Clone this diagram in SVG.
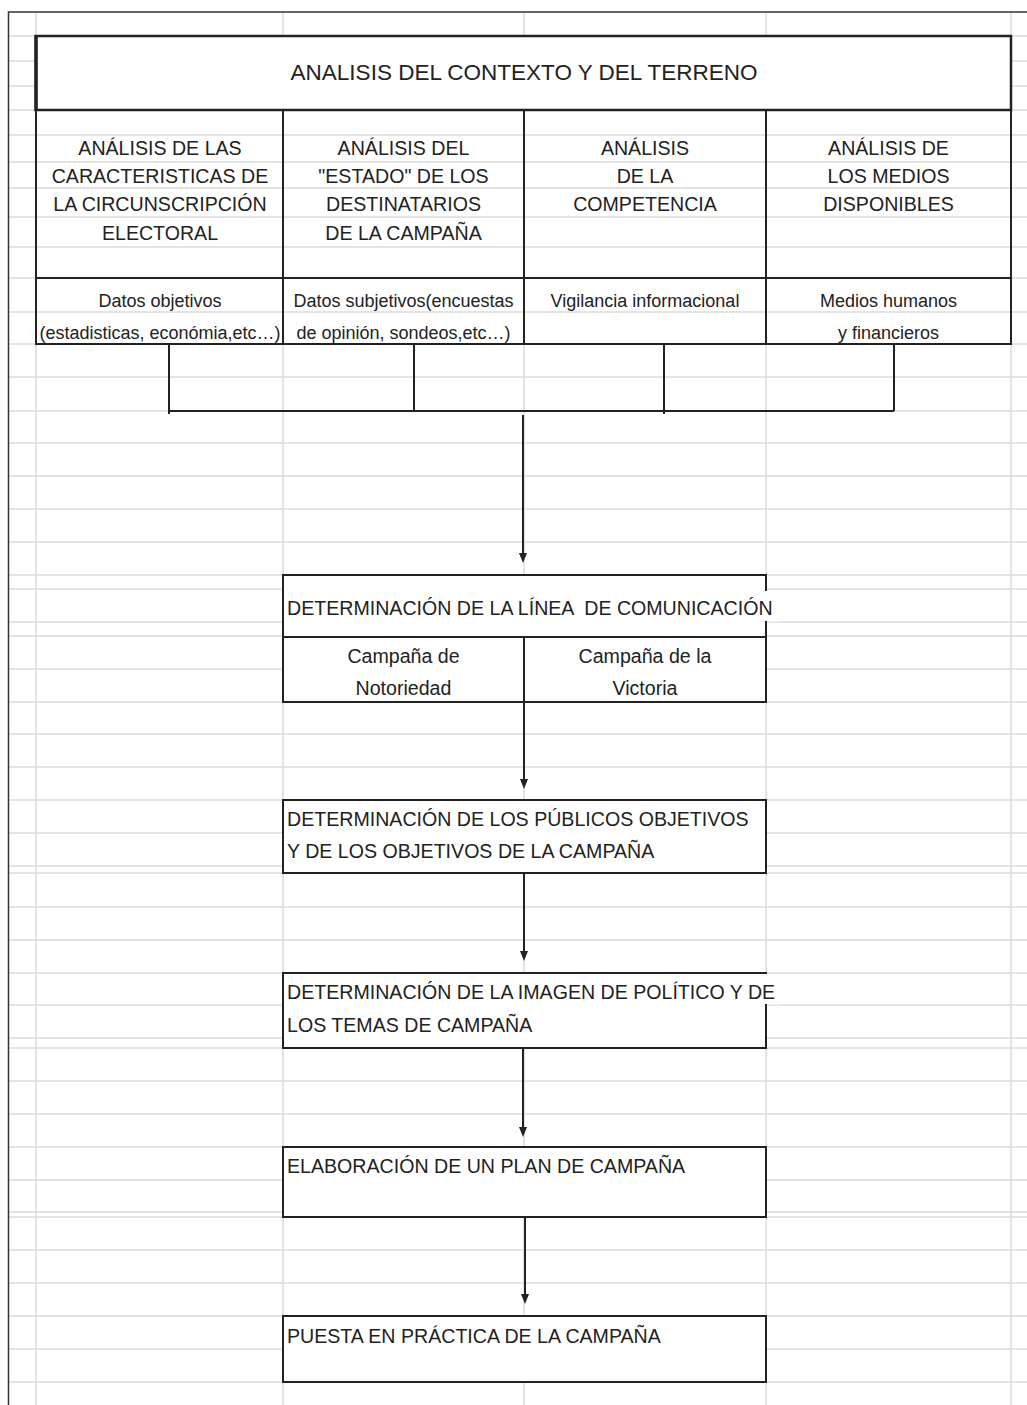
<svg xmlns="http://www.w3.org/2000/svg" width="1027" height="1405" viewBox="0 0 1027 1405">
<style>
.grid{stroke:#dcdcdc;stroke-width:1.5;fill:none}
.frame{stroke:#333;stroke-width:1.5;fill:none}
.bd{stroke:#222;stroke-width:2;fill:none;stroke-linecap:square}
.fillw{fill:#fff;stroke:none}
.t{font-family:"Liberation Sans",Arial,Helvetica,sans-serif;fill:#222}
.title{font-size:22.5px;text-anchor:middle}
.hd{font-size:19.6px;text-anchor:middle}
.dt{font-size:18px;text-anchor:middle}
.bx{font-size:19.6px}
.cn{stroke:#222;stroke-width:2;fill:none}
</style>
<defs>
<marker id="arr" viewBox="0 0 10 8" markerWidth="10" markerHeight="8" refX="0" refY="4" orient="auto" markerUnits="userSpaceOnUse">
<path d="M0,0 L10,4 L0,8 z" fill="#222"/>
</marker>
</defs>
<rect x="0" y="0" width="1027" height="1405" fill="#fff"/>
<g id="grid">
<path class="grid" d="M9,36H1027M9,61H1027M9,86H1027M9,110H1027M9,135H1027M9,162H1027M9,188H1027M9,217H1027M9,247H1027M9,278H1027M9,312H1027M9,344H1027M9,377H1027M9,411H1027M9,443H1027M9,476H1027M9,509H1027M9,542H1027M9,575H1027M9,589H1027M9,622H1027M9,636H1027M9,669H1027M9,702H1027M9,734H1027M9,767H1027M9,800H1027M9,833H1027M9,866H1027M9,873H1027M9,907H1027M9,940H1027M9,973H1027M9,1005H1027M9,1038H1027M9,1048H1027M9,1081H1027M9,1114H1027M9,1147H1027M9,1180H1027M9,1212H1027M9,1217H1027M9,1250H1027M9,1283H1027M9,1316H1027M9,1349H1027M9,1382H1027"/>
<path class="grid" d="M36,12V1405M283,12V1405M524,12V1405M766,12V1405M1011,12V1405"/>
<path class="frame" d="M8.5,1405V12H1027"/>
</g>
<g id="title">
<rect class="fillw" x="36" y="36" width="975" height="74"/>
<rect x="36" y="36" width="975" height="74" fill="none" stroke="#222" stroke-width="2.5"/>
<line x1="36" y1="35" x2="36" y2="111" stroke="#222" stroke-width="3.5"/>
<text class="t title" x="524" y="80">ANALISIS DEL CONTEXTO Y DEL TERRENO</text>
</g>
<g id="col1">
<path class="bd" d="M36,110V344H283M36,278H283"/>
<text class="t hd" x="160" y="155">ANÁLISIS DE LAS</text>
<text class="t hd" x="160" y="183">CARACTERISTICAS DE</text>
<text class="t hd" x="160" y="211">LA CIRCUNSCRIPCIÓN</text>
<text class="t hd" x="160" y="240">ELECTORAL</text>
<text class="t dt" x="160" y="307">Datos objetivos</text>
<text class="t dt" x="160" y="339">(estadisticas, económia,etc…)</text>
</g>
<g id="col2">
<path class="bd" d="M283,110V344H524M283,278H524"/>
<text class="t hd" x="403.5" y="155">ANÁLISIS DEL</text>
<text class="t hd" x="403.5" y="183">"ESTADO" DE LOS</text>
<text class="t hd" x="403.5" y="211">DESTINATARIOS</text>
<text class="t hd" x="403.5" y="240">DE LA CAMPAÑA</text>
<text class="t dt" x="403.5" y="307">Datos subjetivos(encuestas</text>
<text class="t dt" x="403.5" y="339">de opinión, sondeos,etc…)</text>
</g>
<g id="col3">
<path class="bd" d="M524,110V344H766M524,278H766"/>
<text class="t hd" x="645" y="155">ANÁLISIS</text>
<text class="t hd" x="645" y="183">DE LA</text>
<text class="t hd" x="645" y="211">COMPETENCIA</text>
<text class="t dt" x="645" y="307">Vigilancia informacional</text>
</g>
<g id="col4">
<path class="bd" d="M766,110V344H1011V110M766,278H1011"/>
<text class="t hd" x="888.5" y="155">ANÁLISIS DE</text>
<text class="t hd" x="888.5" y="183">LOS MEDIOS</text>
<text class="t hd" x="888.5" y="211">DISPONIBLES</text>
<text class="t dt" x="888.5" y="307">Medios humanos</text>
<text class="t dt" x="888.5" y="339">y financieros</text>
</g>
<g id="linea">
<rect class="fillw" x="283" y="575" width="483" height="127"/>
<rect class="fillw" x="284" y="590.5" width="495" height="31"/>
<path class="bd" d="M766,590V575H283V702H766V622M283,637H766M524,637V702"/>
<text class="t bx" x="287" y="615" xml:space="preserve">DETERMINACIÓN DE LA LÍNEA  DE COMUNICACIÓN</text>
<text class="t hd" x="403.5" y="663">Campaña de</text>
<text class="t hd" x="403.5" y="695">Notoriedad</text>
<text class="t hd" x="645" y="663">Campaña de la</text>
<text class="t hd" x="645" y="695">Victoria</text>
</g>
<g id="publicos">
<rect class="fillw" x="283" y="800" width="483" height="73"/>
<rect class="bd" x="283" y="800" width="483" height="73"/>
<text class="t bx" x="287" y="826">DETERMINACIÓN DE LOS PÚBLICOS OBJETIVOS</text>
<text class="t bx" x="287" y="858">Y DE LOS OBJETIVOS DE LA CAMPAÑA</text>
</g>
<g id="imagen">
<rect class="fillw" x="283" y="973" width="483" height="75"/>
<rect class="fillw" x="284" y="974" width="496" height="30.5"/>
<path class="bd" d="M766,973H283V1048H766V1005"/>
<text class="t bx" x="287" y="999">DETERMINACIÓN DE LA IMAGEN DE POLÍTICO Y DE</text>
<text class="t bx" x="287" y="1032">LOS TEMAS DE CAMPAÑA</text>
</g>
<g id="plan">
<rect class="fillw" x="283" y="1147" width="483" height="70"/>
<rect class="bd" x="283" y="1147" width="483" height="70"/>
<text class="t bx" x="287" y="1173">ELABORACIÓN DE UN PLAN DE CAMPAÑA</text>
</g>
<g id="puesta">
<rect class="fillw" x="283" y="1316" width="483" height="66"/>
<rect class="bd" x="283" y="1316" width="483" height="66"/>
<text class="t bx" x="287" y="1343">PUESTA EN PRÁCTICA DE LA CAMPAÑA</text>
</g>
<g id="connectors">
<path class="cn" d="M169,345V414M414,345V411M664,345V414M894,345V411M169,411H894"/>
<line class="cn" x1="523" y1="415" x2="523" y2="553" marker-end="url(#arr)"/>
<line class="cn" x1="524" y1="703" x2="524" y2="779" marker-end="url(#arr)"/>
<line class="cn" x1="524" y1="874" x2="524" y2="951" marker-end="url(#arr)"/>
<line class="cn" x1="523" y1="1049" x2="523" y2="1127" marker-end="url(#arr)"/>
<line class="cn" x1="525" y1="1218" x2="525" y2="1294" marker-end="url(#arr)"/>
</g>
</svg>
